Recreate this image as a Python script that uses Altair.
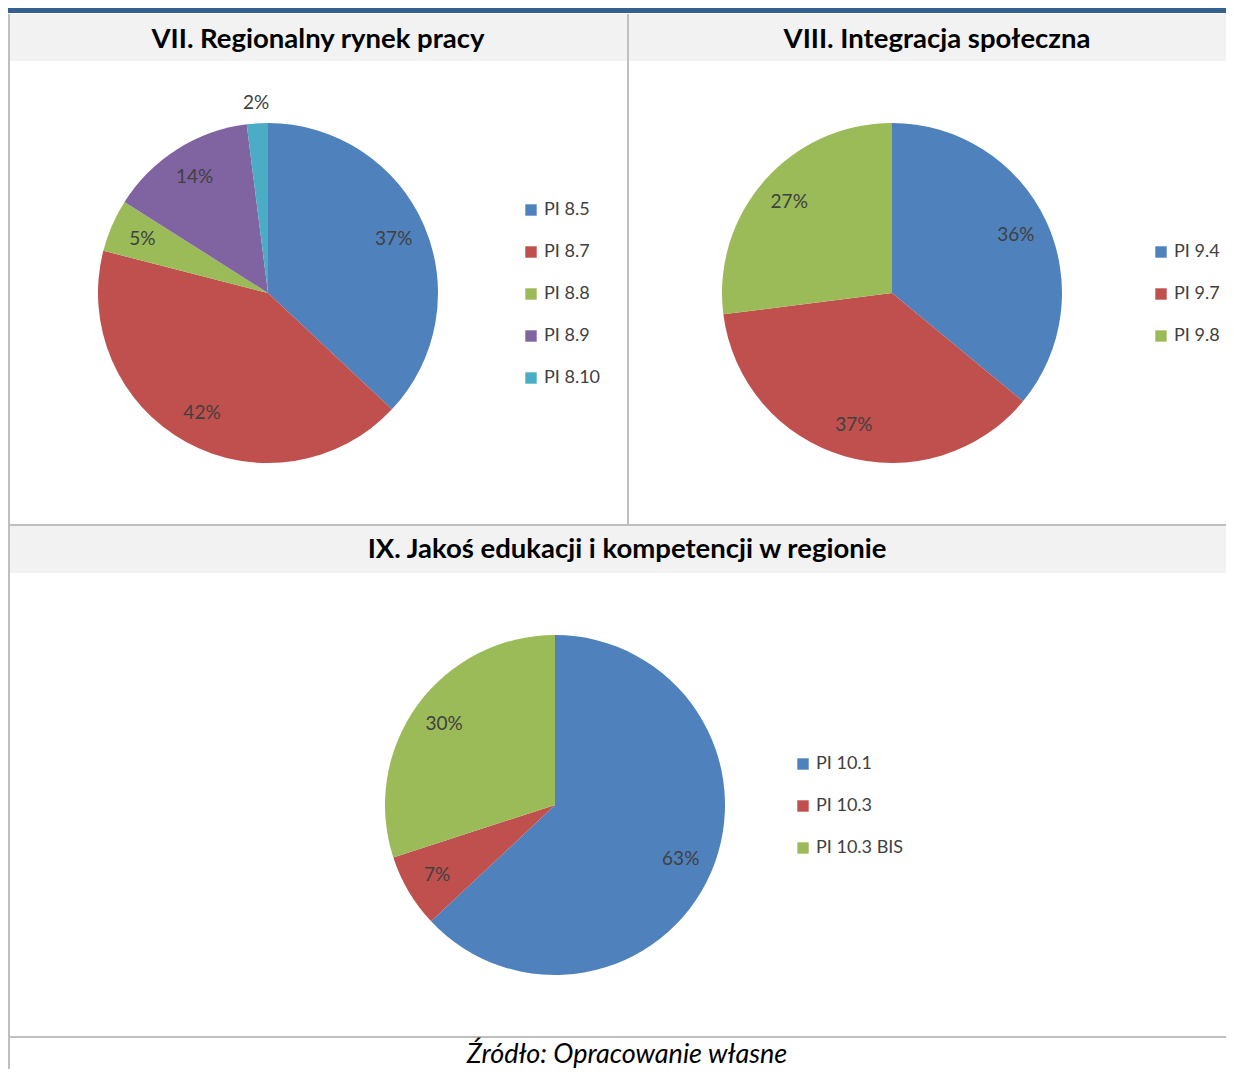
import altair as alt
import pandas as pd

# ---- data ----
cats1 = ["PI 8.5", "PI 8.7", "PI 8.8", "PI 8.9", "PI 8.10"]
vals1 = [37, 42, 5, 14, 2]
cats2 = ["PI 9.4", "PI 9.7", "PI 9.8"]
vals2 = [36, 37, 27]
cats3 = ["PI 10.1", "PI 10.3", "PI 10.3 BIS"]
vals3 = [63, 7, 30]
titles = ["VII. Regionalny rynek pracy", "VIII. Integracja społeczna",
          "IX. Jakoś edukacji i kompetencji w regionie"]
source = "Źródło: Opracowanie własne"

palette = ["#4F81BD", "#C0504D", "#9BBB59", "#8064A2", "#4BACC6"]
FONT = "Lato"
W, H = 1218, 1061
OFF = 8  # page margin offset
R = 170

one = pd.DataFrame({"d": [0]})


def rect(x, x2, y, y2, color):
    return alt.Chart(one).mark_rect(color=color).encode(
        x=alt.value(x - OFF), x2=alt.value(x2 - OFF),
        y=alt.value(y - OFF), y2=alt.value(y2 - OFF))


def text(s, x, y, size, weight="bold", style="normal", color="#000000"):
    return alt.Chart(pd.DataFrame({"t": [s]})).mark_text(
        font=FONT, fontSize=size, fontWeight=weight, fontStyle=style,
        color=color, align="center", baseline="middle").encode(
        text="t:N", x=alt.value(x - OFF), y=alt.value(y - OFF))


def pie(cats, vals, cx, cy, lx, ly):
    df = pd.DataFrame({"cat": cats, "value": vals, "k": list(range(len(cats)))})
    arc = alt.Chart(df).mark_arc(outerRadius=R, strokeWidth=0).encode(
        theta=alt.Theta("value:Q", stack=True),
        order=alt.Order("k:Q"),
        x=alt.value(cx - OFF), y=alt.value(cy - OFF),
        color=alt.Color("cat:N", title=None,
                        scale=alt.Scale(domain=cats, range=palette[:len(cats)]),
                        legend=alt.Legend(orient="none", legendX=lx - OFF, legendY=ly - OFF,
                                          symbolType="square", symbolSize=130,
                                          symbolStrokeWidth=0, labelFont=FONT,
                                          labelFontSize=18, labelColor="#404040",
                                          rowPadding=24, labelOffset=4, padding=0)))
    lbase = alt.Chart(df).transform_window(
        cum="sum(value)", sort=[alt.SortField("k")]
    ).transform_calculate(
        mid="datum.cum - datum.value / 2",
        lbl="datum.value + '%'")
    layers = [arc]
    for cond, rad in (("datum.value >= 3", 137), ("datum.value < 3", 190)):
        layers.append(lbase.transform_filter(cond).mark_text(
            font=FONT, fontSize=19, color="#404040", radius=rad).encode(
            theta=alt.Theta("mid:Q", stack=False),
            x=alt.value(cx - OFF), y=alt.value(cy - OFF),
            text="lbl:N"))
    return alt.layer(*layers)


grid = "#BFBFBF"
decos = [
    rect(0, 1234, 0, 13, "#365F91"),
    rect(10, 627, 14, 61, "#F2F2F2"),
    rect(629, 1234, 14, 61, "#F2F2F2"),
    rect(10, 1234, 526, 573, "#F2F2F2"),
    rect(8, 10, 14, 1077, grid),
    rect(627, 629, 14, 525, grid),
    rect(8, 1234, 524, 526, grid),
    rect(8, 1234, 1036, 1038, grid),
    text(titles[0], 318, 40, 27.5),
    text(titles[1], 937, 40, 27.5),
    text(titles[2], 627, 550, 27.5),
    text(source, 627, 1055, 27, weight="normal", style="italic"),
]

p1 = pie(cats1, vals1, 268, 293, 522, 201)
p2 = pie(cats2, vals2, 892, 293, 1152, 243)
p3 = pie(cats3, vals3, 555, 805, 794, 755)

chart = alt.layer(*decos, p1, p2, p3).resolve_scale(
    theta="independent", color="independent"
).properties(
    width=W, height=H, padding=0,
    autosize=alt.AutoSizeParams(type="none"),
    background="#FFFFFF",
).configure_view(strokeWidth=0)

chart.save("out.html", embed_options={"renderer": "svg", "actions": False})
